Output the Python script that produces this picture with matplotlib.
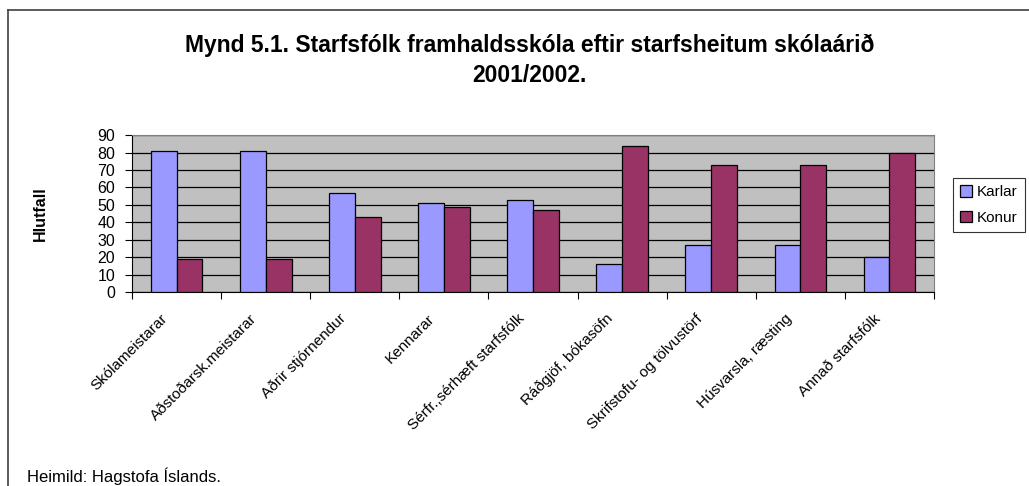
import matplotlib.pyplot as plt
import numpy as np
from matplotlib.lines import Line2D
from matplotlib.transforms import ScaledTranslation

plt.rcParams["font.family"] = ["Liberation Sans", "DejaVu Sans"]

categories = [
    "Skólameistarar",
    "Aðstoðarsk.meistarar",
    "Aðrir stjórnendur",
    "Kennarar",
    "Sérfr.,sérhæft starfsfólk",
    "Ráðgjöf, bókasöfn",
    "Skrifstofu- og tölvustörf",
    "Húsvarsla, ræsting",
    "Annað starfsfólk",
]
karlar = [81, 81, 57, 51, 53, 16, 27, 27, 20]
konur = [19, 19, 43, 49, 47, 84, 73, 73, 80]
series_names = ["Karlar", "Konur"]
yticks = list(range(0, 100, 10))

fig = plt.figure(figsize=(10.29, 4.86), dpi=100)
ax = fig.add_axes([0.1283, 0.399, 0.7794, 0.323])

x = np.arange(len(categories))
w = 0.29
ax.bar(x - w / 2, karlar, w, color="#9999FF", edgecolor="black", linewidth=0.9,
       label=series_names[0], zorder=3)
ax.bar(x + w / 2, konur, w, color="#993366", edgecolor="black", linewidth=0.9,
       label=series_names[1], zorder=3)

ax.set_facecolor("#C0C0C0")
ax.set_xlim(-0.5, len(categories) - 0.5)
ax.set_ylim(0, 90)
ax.set_yticks(yticks)
ax.tick_params(axis="y", labelsize=11.5, length=5, width=0.8, pad=7)
ax.grid(axis="y", color="black", linewidth=0.9, zorder=1)
ax.set_axisbelow(True)

ax.set_xticks(np.arange(len(categories) + 1) - 0.5, minor=False)
ax.set_xticklabels([])
ax.set_xticks(x, minor=True)
ax.set_xticklabels(categories, minor=True, rotation=45, ha="right",
                   rotation_mode="anchor", fontsize=11)
ax.tick_params(axis="x", which="major", length=5, width=0.8)
ax.tick_params(axis="x", which="minor", length=0, pad=14)
shift = ScaledTranslation(-16 / 100, 0, fig.dpi_scale_trans)
for lbl in ax.get_xticklabels(minor=True):
    lbl.set_transform(lbl.get_transform() + shift)

for side in ["top", "right"]:
    ax.spines[side].set_color("#808080")
ax.spines["left"].set_color("black")
ax.spines["bottom"].set_color("black")

ax.set_ylabel("Hlutfall", fontsize=11.5, fontweight="bold")
ax.yaxis.set_label_coords(-84 / 802, 0.5)

fig.text(0.515, 0.907, "Mynd 5.1. Starfsfólk framhaldsskóla eftir starfsheitum skólaárið",
         ha="center", va="center", fontsize=16.5, fontweight="bold")
fig.text(0.515, 0.845, "2001/2002.", ha="center", va="center",
         fontsize=16.5, fontweight="bold")

leg = ax.legend(loc="center left", bbox_to_anchor=(1.024, 0.555), frameon=True,
                fancybox=False, edgecolor="black", fontsize=11,
                handlelength=0.8, handleheight=0.8, handletextpad=0.3,
                borderpad=0.45, labelspacing=0.75, borderaxespad=0)
leg.get_frame().set_linewidth(0.8)

fig.text(0.026, 0.021, "Heimild: Hagstofa Íslands.", ha="left", va="center", fontsize=12)

# chart area border (top and left edges visible)
fig.add_artist(Line2D([0.008, 1.0], [0.979, 0.979], transform=fig.transFigure,
                      color="#404040", linewidth=1.2))
fig.add_artist(Line2D([0.008, 0.008], [0.0, 0.979], transform=fig.transFigure,
                      color="#404040", linewidth=1.2))

fig.savefig("out.png", dpi=100)
